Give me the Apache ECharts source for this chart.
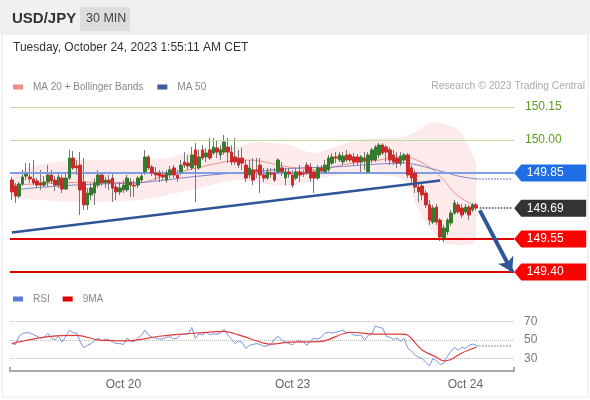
<!DOCTYPE html>
<html>
<head>
<meta charset="utf-8">
<script src="https://cdn.jsdelivr.net/npm/echarts@6/dist/echarts.min.js"></script>
<style>
  html, body { margin: 0; padding: 0; background: #fff; }
  #chart { width: 590px; height: 400px; }
</style>
</head>
<body>
<div id="chart"></div>
<script>
  // 30 min candles, Oct 19 -> Oct 24 (index = candle slot)
  const opens = [
    149.818, 149.791, 149.745, 149.800, 149.836, 149.832, 149.823, 149.814, 149.805, 149.795,
    149.809, 149.841, 149.818, 149.795, 149.827, 149.777, 149.827, 149.918, 149.882, 149.886,
    149.809, 149.705, 149.750, 149.759, 149.795, 149.841, 149.805, 149.818, 149.827, 149.786,
    149.764, 149.773, 149.773, 149.809, 149.795, 149.795, 149.818, 149.855, 149.923, 149.877,
    149.850, 149.850, 149.841, 149.818, 149.841, 149.873, 149.841, 149.855, 149.900, 149.895,
    149.873, 149.955, 149.873, 149.955, 149.923, 149.955, 149.941, 149.964, 149.932, 149.945,
    149.968, 149.945, 149.923, 149.918, 149.918, 149.886, 149.841, 149.864, 149.864, 149.886,
    149.841, 149.827, 149.850, 149.850, 149.855, 149.873, 149.827, 149.855, 149.841, 149.827,
    149.855, 149.850, 149.886, 149.877, 149.855, 149.827, 149.873, 149.855, 149.864, 149.895,
    149.923, 149.909, 149.900, 149.932, 149.932, 149.923, 149.923, 149.900, 149.918, 149.855,
    149.909, 149.909, 149.932, 149.977, 149.968, 149.955, 149.932, 149.918, 149.895, 149.909,
    149.932, 149.873, 149.850, 149.786, 149.791, 149.759, 149.705, 149.627, 149.695, 149.636,
    149.555, 149.582, 149.623, 149.668, 149.705, 149.691, 149.673, 149.695, 149.682, 149.705
  ]
  const closes = [
    149.764, 149.745, 149.800, 149.832, 149.845, 149.823, 149.805, 149.795, 149.795, 149.809,
    149.841, 149.814, 149.795, 149.832, 149.777, 149.827, 149.918, 149.873, 149.873, 149.773,
    149.705, 149.759, 149.782, 149.805, 149.841, 149.805, 149.818, 149.805, 149.782, 149.764,
    149.782, 149.795, 149.827, 149.795, 149.791, 149.827, 149.836, 149.923, 149.873, 149.850,
    149.841, 149.836, 149.832, 149.850, 149.864, 149.841, 149.827, 149.886, 149.886, 149.882,
    149.932, 149.886, 149.923, 149.918, 149.941, 149.918, 149.968, 149.945, 149.955, 149.991,
    149.945, 149.900, 149.900, 149.886, 149.895, 149.827, 149.873, 149.818, 149.859, 149.841,
    149.827, 149.855, 149.845, 149.818, 149.909, 149.855, 149.855, 149.845, 149.795, 149.855,
    149.841, 149.845, 149.850, 149.827, 149.827, 149.873, 149.859, 149.886, 149.918, 149.923,
    149.918, 149.932, 149.927, 149.909, 149.909, 149.900, 149.900, 149.923, 149.905, 149.932,
    149.955, 149.968, 149.977, 149.941, 149.945, 149.909, 149.900, 149.895, 149.927, 149.932,
    149.841, 149.827, 149.786, 149.764, 149.750, 149.705, 149.636, 149.691, 149.627, 149.559,
    149.600, 149.636, 149.668, 149.714, 149.673, 149.659, 149.695, 149.659, 149.705, 149.691
  ]
  const highs = [
    149.832, 149.805, 149.809, 149.864, 149.895, 149.895, 149.909, 149.827, 149.864, 149.836,
    149.886, 149.864, 149.836, 149.850, 149.841, 149.855, 149.955, 149.950, 149.909, 149.945,
    149.918, 149.782, 149.805, 149.827, 149.864, 149.855, 149.832, 149.841, 149.845, 149.800,
    149.809, 149.818, 149.841, 149.827, 149.818, 149.836, 149.855, 149.955, 149.932, 149.886,
    149.877, 149.864, 149.859, 149.864, 149.882, 149.886, 149.864, 149.909, 149.945, 149.932,
    149.968, 149.986, 149.955, 149.977, 149.964, 150.009, 150.009, 150.000, 149.977, 150.023,
    150.009, 149.977, 150.009, 149.955, 149.964, 149.909, 149.909, 149.918, 149.918, 149.918,
    149.873, 149.873, 149.873, 149.873, 149.918, 149.900, 149.873, 149.873, 149.864, 149.873,
    149.886, 149.864, 149.900, 149.895, 149.864, 149.886, 149.886, 149.909, 149.932, 149.941,
    149.945, 149.945, 149.945, 149.955, 149.941, 149.941, 149.936, 149.932, 149.945, 149.945,
    149.964, 149.977, 149.986, 149.986, 149.977, 149.968, 149.955, 149.945, 149.945, 149.941,
    149.941, 149.886, 149.864, 149.805, 149.805, 149.773, 149.727, 149.705, 149.709, 149.645,
    149.614, 149.645, 149.682, 149.727, 149.718, 149.709, 149.709, 149.705, 149.714, 149.714
  ]
  const lows = [
    149.727, 149.714, 149.736, 149.791, 149.818, 149.805, 149.795, 149.782, 149.773, 149.786,
    149.786, 149.800, 149.768, 149.782, 149.759, 149.773, 149.818, 149.864, 149.841, 149.659,
    149.682, 149.682, 149.727, 149.705, 149.782, 149.791, 149.782, 149.773, 149.718, 149.727,
    149.750, 149.759, 149.764, 149.741, 149.741, 149.782, 149.805, 149.841, 149.864, 149.836,
    149.818, 149.809, 149.818, 149.805, 149.827, 149.827, 149.809, 149.841, 149.873, 149.864,
    149.864, 149.718, 149.864, 149.909, 149.900, 149.909, 149.932, 149.918, 149.909, 149.932,
    149.895, 149.886, 149.886, 149.873, 149.864, 149.809, 149.827, 149.795, 149.827, 149.759,
    149.809, 149.818, 149.827, 149.809, 149.845, 149.836, 149.795, 149.827, 149.782, 149.818,
    149.809, 149.832, 149.841, 149.809, 149.759, 149.818, 149.845, 149.845, 149.855, 149.886,
    149.895, 149.900, 149.886, 149.900, 149.900, 149.886, 149.886, 149.855, 149.864, 149.850,
    149.895, 149.900, 149.918, 149.932, 149.900, 149.886, 149.886, 149.873, 149.882, 149.895,
    149.827, 149.809, 149.759, 149.718, 149.727, 149.691, 149.614, 149.618, 149.614, 149.541,
    149.536, 149.568, 149.609, 149.659, 149.664, 149.645, 149.664, 149.636, 149.673, 149.677
  ]

  // MA 20 + Bollinger bands, MA 50 (read at a few candle slots)
  const bandIdx   = [0, 7, 20, 35, 43, 52, 63, 68, 77, 84, 89, 96, 103, 109, 113, 117, 121, 124, 126, 128, 129]
  const bandUpper = [149.841, 149.886, 149.909, 149.909, 149.918, 149.955, 149.973, 149.991, 149.977, 149.941, 149.964,
                     150.000, 150.009, 150.014, 150.045, 150.082, 150.068, 150.045, 150.000, 149.932, 149.886]
  const bandLower = [149.736, 149.727, 149.718, 149.727, 149.750, 149.782, 149.818, 149.805, 149.791, 149.818, 149.836,
                     149.850, 149.841, 149.818, 149.682, 149.582, 149.527, 149.523, 149.523, 149.527, 149.545]
  const ma20Idx = [0, 13, 24, 35, 43, 49, 59, 66, 77, 85, 93, 102, 107, 111, 116, 120, 123, 127, 129]
  const ma20 = [149.795, 149.805, 149.809, 149.805, 149.841, 149.864, 149.900, 149.909, 149.877, 149.864,
                149.891, 149.909, 149.923, 149.918, 149.877, 149.818, 149.759, 149.714, 149.705]
  const ma50Idx = [0, 13, 24, 35, 52, 66, 80, 89, 102, 109, 118, 124, 129]
  const ma50 = [149.773, 149.791, 149.800, 149.805, 149.836, 149.855, 149.873, 149.877, 149.891, 149.895,
                149.864, 149.836, 149.823]

  // RSI and its 9 period MA
  const rsi = [
    46, 45, 54, 57, 58, 57.5, 56, 54, 52, 53,
    57, 52, 50, 54, 47.5, 54, 60.6, 58, 57.5, 48,
    41.5, 44, 46, 49, 52, 49, 51, 50, 48, 46,
    46, 45, 52, 49, 48, 52, 55, 60.6, 55, 53,
    52, 51, 51, 53, 53.5, 51, 52, 56.6, 56, 56.5,
    63.5, 51.7, 56.6, 55.5, 58.4, 55.5, 57, 56, 58, 61.5,
    55.5, 51, 46, 49, 47, 40.7, 44, 45, 46, 45,
    43, 43.5, 45, 51, 54, 50, 47.5, 46, 44.5, 48.5,
    49, 47.5, 44, 49.5, 51.7, 51, 53, 57.3, 58.5, 57.5,
    58.5, 59.6, 60.5, 57.3, 58.5, 55.3, 55, 55, 49.7, 55,
    56, 65.5, 63.5, 63, 54, 53, 50.5, 52, 48.5, 51.5,
    41, 38, 33.6, 31, 29.5, 25.5, 21.8, 29.8, 27, 23,
    24.5, 32, 37.5, 41.9, 38.6, 42, 40.5, 44, 45.5, 44
  ]
  const rsiMaIdx = [0, 10, 18, 24, 32, 41, 46, 52, 59, 63, 70, 72, 77, 86, 94, 101, 108, 110, 114, 118, 120, 122, 125, 129]
  const rsiMa = [46, 53.5, 55, 50, 49, 54, 56, 57.6, 59.3, 55.5, 46.5, 45.5, 47.5, 48.3, 58.4, 56.3, 56.3, 55,
                 39, 31, 27, 28.5, 35.7, 42]
  const rsiLevels = [30, 50, 70]

  // levels and annotations
  const resistLevels = [150.15, 150.00]
  const pivotLevel = 149.85
  const lastPrice = 149.69
  const supportLevels = [149.55, 149.40]
  const trendStart = [0, 149.58]
  const trendEnd = [119, 149.816]
  const arrowStart = [130, 149.68]
  const arrowEnd = [139, 149.40]

  const slotCount = 140
  const dayIndex = [31, 78, 126]
  const dayLabels = ['Oct 20', 'Oct 23', 'Oct 24']

  const categories = []
  for (let i = 0; i < slotCount; i++) categories.push(String(i))
  const lastIdx = closes.length - 1
  const endIdx = slotCount - 1
  const fontFamily = '"Liberation Sans", Arial, sans-serif'

  const pairs = (idx, vals) => idx.map((x, k) => [x, vals[k]])
  const wickData = opens.map((o, i) => [o, closes[i], lows[i], highs[i]])
  const bodyData = opens.map((o, i) => [o, closes[i], Math.min(o, closes[i]), Math.max(o, closes[i])])

  function hLine(value, color, width, type) {
    return { yAxis: value, lineStyle: { color: color, width: width, type: type || 'solid' }, label: { show: false } }
  }
  function tag(value, color) {
    return {
      coord: [endIdx, value],
      symbol: 'path://M0,8L7,0L72,0L72,16L7,16Z',
      symbolSize: [72, 17],
      symbolOffset: [38, 0],
      itemStyle: { color: color },
      label: {
        show: true, position: 'inside', offset: [-5, 0], formatter: value.toFixed(2),
        color: '#fff', fontSize: 12, fontFamily: fontFamily
      }
    }
  }

  const chart = echarts.init(document.getElementById('chart'))
  chart.setOption({
    animation: false,
    backgroundColor: '#fff',
    textStyle: { fontFamily: fontFamily },
    graphic: [
      { type: 'rect', shape: { x: 0, y: 0, width: 590, height: 34 }, style: { fill: '#f0f0f0' } },
      { type: 'rect', shape: { x: 2, y: 34, width: 586, height: 363 }, style: { fill: 'none', stroke: '#e8e8e8', lineWidth: 1 } },
      { type: 'text', left: 12, top: 11, style: { text: 'USD/JPY', font: 'bold 15px ' + fontFamily, fill: '#333' } },
      { type: 'rect', shape: { x: 80, y: 7, width: 50, height: 24 }, style: { fill: '#dddddd' } },
      { type: 'text', left: 86, top: 12, style: { text: '30 MIN', font: '12.5px ' + fontFamily, fill: '#444' } },
      { type: 'text', left: 13, top: 42, style: { text: 'Tuesday, October 24, 2023 1:55:11 AM CET', font: '12px ' + fontFamily, fill: '#333' } },
      { type: 'text', right: 5, top: 81, style: { text: 'Research \u00a9 2023 Trading Central', font: '10.3px ' + fontFamily, fill: '#aaa' } }
    ],
    legend: [
      {
        left: 8, top: 77, itemWidth: 10, itemHeight: 5, itemGap: 14, icon: 'rect',
        selectedMode: false,
        textStyle: { color: '#888', fontSize: 10, padding: [0, 0, 0, 5] },
        data: [
          { name: 'MA 20 + Bollinger Bands', itemStyle: { color: '#f48b8b' } },
          { name: 'MA 50', itemStyle: { color: '#3d5f9f' } }
        ]
      },
      {
        left: 8, top: 289, itemWidth: 10, itemHeight: 5, itemGap: 13, icon: 'rect',
        selectedMode: false,
        textStyle: { color: '#888', fontSize: 10, padding: [0, 0, 0, 5] },
        data: [
          { name: 'RSI', itemStyle: { color: '#5b7bd5' } },
          { name: '9MA', itemStyle: { color: '#e00000' } }
        ]
      }
    ],
    grid: [
      { left: 10, right: 76, top: 96, height: 187 },
      { left: 10, right: 76, top: 307, height: 64 }
    ],
    xAxis: [
      { type: 'category', gridIndex: 0, data: categories, boundaryGap: true, show: false },
      {
        type: 'category', gridIndex: 1, data: categories, boundaryGap: true,
        axisLine: { lineStyle: { color: '#aaa', width: 2 } },
        axisTick: { show: true, inside: true, length: 4, interval: (i) => i === 0, lineStyle: { color: '#aaa', width: 2 } },
        axisLabel: {
          interval: (i) => dayIndex.indexOf(i) >= 0,
          formatter: (v, i) => dayLabels[dayIndex.indexOf(i)] || '',
          color: '#666', fontSize: 12, margin: 8
        },
        splitLine: { show: false }
      }
    ],
    yAxis: [
      { type: 'value', gridIndex: 0, min: 149.35, max: 150.20, show: false, splitLine: { show: false } },
      {
        type: 'value', gridIndex: 1, min: 16, max: 86, position: 'right',
        axisLine: { show: false },
        axisTick: { show: false, customValues: rsiLevels },
        axisLabel: { customValues: rsiLevels, color: '#777', fontSize: 12, margin: 10 },
        splitLine: { show: true, lineStyle: { color: '#bbb', type: 'dotted' } }
      }
    ],
    series: [
      {
        name: 'band-base', type: 'line', xAxisIndex: 0, yAxisIndex: 0, stack: 'bb',
        data: pairs(bandIdx, bandLower), showSymbol: false, smooth: 0.3,
        lineStyle: { opacity: 0 }, silent: true, z: 1
      },
      {
        name: 'band-fill', type: 'line', xAxisIndex: 0, yAxisIndex: 0, stack: 'bb',
        data: bandIdx.map((x, k) => [x, bandUpper[k] - bandLower[k]]), showSymbol: false, smooth: 0.3,
        lineStyle: { opacity: 0 }, areaStyle: { color: 'rgba(248, 170, 170, 0.35)' }, silent: true, z: 1
      },
      {
        name: 'levels', type: 'line', xAxisIndex: 0, yAxisIndex: 0, data: [], z: 2,
        markLine: {
          silent: true, symbol: 'none',
          data: [
            ...resistLevels.map(v => ({
              yAxis: v, lineStyle: { color: '#bfdc9f', width: 1, type: 'solid' },
              label: { show: true, position: 'end', distance: 11, formatter: v.toFixed(2), color: '#5e9e22', fontSize: 12 }
            })),
            hLine(pivotLevel, '#7e9de2', 2),
            ...supportLevels.map(v => hLine(v, '#e00000', 2))
          ]
        }
      },
      {
        name: 'MA 20 + Bollinger Bands', type: 'line', xAxisIndex: 0, yAxisIndex: 0,
        data: pairs(ma20Idx, ma20), showSymbol: false, smooth: 0.3,
        itemStyle: { color: '#f48b8b' }, lineStyle: { color: '#f29090', width: 1 }, z: 3
      },
      {
        name: 'MA 50', type: 'line', xAxisIndex: 0, yAxisIndex: 0,
        data: pairs(ma50Idx, ma50), showSymbol: false, smooth: 0.3,
        itemStyle: { color: '#3d5f9f' }, lineStyle: { color: '#7e86c6', width: 1 }, z: 3,
        markLine: {
          silent: true, symbol: 'none',
          data: [[
            { coord: [lastIdx, ma50[ma50.length - 1]] },
            { coord: [endIdx, ma50[ma50.length - 1]], lineStyle: { color: '#7e86c6', width: 1.5, type: 'dotted' }, label: { show: false } }
          ]]
        }
      },
      {
        name: 'wicks', type: 'candlestick', xAxisIndex: 0, yAxisIndex: 0, data: wickData, barWidth: 1,
        itemStyle: { color: '#777', color0: '#777', borderColor: '#777', borderColor0: '#777', borderWidth: 1 },
        z: 4
      },
      {
        name: 'bodies', type: 'candlestick', xAxisIndex: 0, yAxisIndex: 0, data: bodyData, barWidth: 3,
        itemStyle: { color: '#357a2e', color0: '#cc2a2a', borderColor: '#357a2e', borderColor0: '#cc2a2a', borderColorDoji: '#777', borderWidth: 1 },
        z: 5,
        markLine: {
          silent: true, symbol: 'none', z: 6,
          data: [
            [
              { coord: trendStart },
              { coord: trendEnd, lineStyle: { color: '#2f5597', width: 2.5, type: 'solid' }, label: { show: false } }
            ],
            [
              { coord: [lastIdx + 1, lastPrice] },
              { coord: [endIdx, lastPrice], lineStyle: { color: '#444', width: 1.5, type: 'dotted' }, label: { show: false } }
            ],
            [
              { coord: arrowStart, symbol: 'none' },
              { coord: arrowEnd, symbol: 'arrow', symbolSize: [13, 14], lineStyle: { color: '#2f5597', width: 4, type: 'solid' }, itemStyle: { color: '#2f5597' }, label: { show: false } }
            ]
          ]
        },
        markPoint: {
          silent: true,
          data: [
            tag(pivotLevel, '#1f6ee8'),
            tag(lastPrice, '#333333'),
            ...supportLevels.map(v => tag(v, '#ff0000'))
          ]
        }
      },
      {
        name: 'RSI', type: 'line', xAxisIndex: 1, yAxisIndex: 1, data: rsi, showSymbol: false,
        itemStyle: { color: '#5b7bd5' }, lineStyle: { color: '#7b93dc', width: 1 },
        markLine: {
          silent: true, symbol: 'none',
          data: [[
            { coord: [lastIdx, rsi[lastIdx]] },
            { coord: [endIdx, rsi[lastIdx]], lineStyle: { color: '#999', width: 1.5, type: 'dotted' }, label: { show: false } }
          ]]
        }
      },
      {
        name: '9MA', type: 'line', xAxisIndex: 1, yAxisIndex: 1, data: pairs(rsiMaIdx, rsiMa),
        showSymbol: false, smooth: 0.3, itemStyle: { color: '#e00000' }, lineStyle: { color: '#e03a3a', width: 1.2 }
      }
    ]
  })
</script>
</body>
</html>
